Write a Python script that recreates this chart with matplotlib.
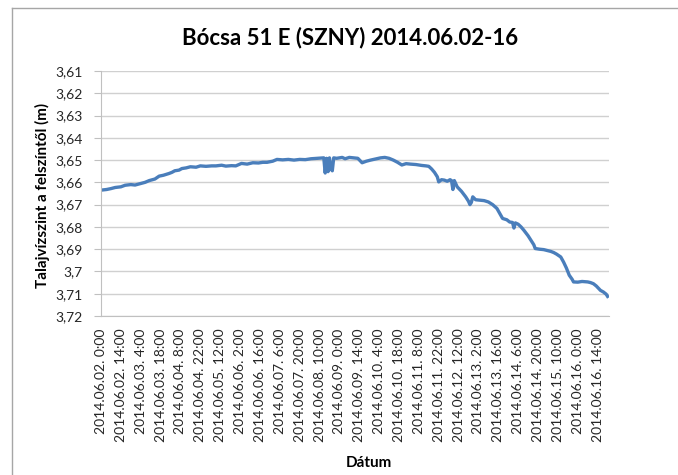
import matplotlib.pyplot as plt
from matplotlib.lines import Line2D

plt.rcParams['font.family'] = ['Lato', 'DejaVu Sans']

# hours since 2014.06.02 0:00, groundwater depth below surface (m)
hours = [0, 4, 7, 10, 14, 17, 21, 24, 28, 31, 34, 38, 41, 44, 48, 50, 52, 55, 57, 60,
         63, 67, 70, 74, 78, 81, 85, 88, 92, 95, 99, 103, 107, 111, 114, 117, 121,
         124, 128, 132, 136, 140, 144, 148, 152, 155, 157, 158, 159, 160, 161, 162,
         163, 164, 166, 170, 172, 175, 178, 181, 184, 187, 190, 194, 197, 200, 203,
         206, 209, 212, 215, 218, 222, 226, 229, 231, 233, 235, 237, 238, 240, 242,
         244, 246, 247, 248, 249, 251, 254, 257, 259, 260, 261, 262, 264, 267, 270,
         273, 276, 279, 281, 283, 286, 288, 290, 291, 292, 294, 296, 298, 301, 303,
         305, 306, 309, 312, 314, 317, 319, 321, 324, 326, 328, 330, 332, 333, 336,
         339, 341, 343, 345, 347, 349, 351, 352, 354, 356, 357]
depth = [3.6635, 3.6632, 3.6628, 3.6623, 3.6620, 3.6613, 3.6610, 3.6612, 3.6605, 3.6600,
         3.6592, 3.6585, 3.6572, 3.6568, 3.6560, 3.6555, 3.6548, 3.6545, 3.6538, 3.6535,
         3.6530, 3.6532, 3.6526, 3.6528, 3.6526, 3.6526, 3.6523, 3.6527, 3.6525, 3.6526,
         3.6515, 3.6518, 3.6512, 3.6513, 3.6510, 3.6510, 3.6505, 3.6497, 3.6499, 3.6497,
         3.6500, 3.6497, 3.6498, 3.6494, 3.6492, 3.6490, 3.6490, 3.6558, 3.6492, 3.6552,
         3.6490, 3.6540, 3.6548, 3.6490, 3.6492, 3.6488, 3.6494, 3.6488, 3.6490, 3.6492,
         3.6512, 3.6505, 3.6500, 3.6494, 3.6490, 3.6488, 3.6492, 3.6500, 3.6510, 3.6522,
         3.6516, 3.6518, 3.6520, 3.6524, 3.6526, 3.6528, 3.6540, 3.6555, 3.6575, 3.6598,
         3.6588, 3.6590, 3.6595, 3.6588, 3.6592, 3.6632, 3.6592, 3.6620, 3.6640, 3.6665,
         3.6685, 3.6700, 3.6690, 3.6665, 3.6678, 3.6680, 3.6682, 3.6688, 3.6700, 3.6717,
         3.6740, 3.6762, 3.6768, 3.6778, 3.6780, 3.6805, 3.6782, 3.6788, 3.6800, 3.6815,
         3.6840, 3.6860, 3.6880, 3.6897, 3.6900, 3.6902, 3.6905, 3.6910, 3.6915, 3.6922,
         3.6935, 3.6958, 3.6985, 3.7017, 3.7035, 3.7047, 3.7048, 3.7045, 3.7046, 3.7047,
         3.7050, 3.7055, 3.7065, 3.7078, 3.7085, 3.7092, 3.7102, 3.7112]

xtick_hours = list(range(0, 351, 14))
xtick_labels = ['2014.06.02. 0:00', '2014.06.02. 14:00', '2014.06.03. 4:00',
                '2014.06.03. 18:00', '2014.06.04. 8:00', '2014.06.04. 22:00',
                '2014.06.05. 12:00', '2014.06.06. 2:00', '2014.06.06. 16:00',
                '2014.06.07. 6:00', '2014.06.07. 20:00', '2014.06.08. 10:00',
                '2014.06.09. 0:00', '2014.06.09. 14:00', '2014.06.10. 4:00',
                '2014.06.10. 18:00', '2014.06.11. 8:00', '2014.06.11. 22:00',
                '2014.06.12. 12:00', '2014.06.13. 2:00', '2014.06.13. 16:00',
                '2014.06.14. 6:00', '2014.06.14. 20:00', '2014.06.15. 10:00',
                '2014.06.16. 0:00', '2014.06.16. 14:00']
ytick_values = [3.61, 3.62, 3.63, 3.64, 3.65, 3.66, 3.67, 3.68, 3.69, 3.70, 3.71, 3.72]
ytick_labels = ['3,61', '3,62', '3,63', '3,64', '3,65', '3,66', '3,67', '3,68', '3,69',
                '3,7', '3,71', '3,72']

fig = plt.figure(figsize=(6.78, 4.75), dpi=100)
ax = fig.add_axes([101 / 678, 1 - 316 / 475, 508 / 678, 245 / 475])

ax.plot(hours, depth, color='#4a7ebb', lw=2.4, solid_joinstyle='round')

ax.set_xlim(0, 358)
ax.set_ylim(3.72, 3.61)
ax.set_yticks(ytick_values)
ax.set_yticklabels(ytick_labels)
ax.set_xticks(xtick_hours)
ax.set_xticklabels(xtick_labels, rotation=90)
ax.grid(axis='y', color='#d0d0d0', lw=1)
ax.set_axisbelow(True)
for side in ['top', 'right']:
    ax.spines[side].set_visible(False)
for side in ['left', 'bottom']:
    ax.spines[side].set_color('#c0c0c0')
ax.tick_params(axis='y', length=5, color='#c0c0c0', pad=8, labelsize=10, labelcolor='#262626')
ax.tick_params(axis='x', length=0, pad=9, labelsize=10, labelcolor='#262626')

fig.text(350 / 678, 1 - 38 / 475, 'Bócsa 51 E (SZNY) 2014.06.02-16', ha='center',
         va='center', fontsize=16, fontweight='bold')
fig.text(42 / 678, 1 - 195 / 475, 'Talajvízszint a felszíntől (m)', ha='center',
         va='center', rotation=90, fontsize=11, fontweight='bold')
fig.text(369 / 678, 1 - 463 / 475, 'Dátum', ha='center', va='center',
         fontsize=11, fontweight='bold')

# chart border (only top and left edges visible in the original crop)
fig.add_artist(Line2D([12 / 678, 1], [1 - 8 / 475, 1 - 8 / 475], color='#a6a6a6', lw=1))
fig.add_artist(Line2D([12 / 678, 12 / 678], [0, 1 - 8 / 475], color='#a6a6a6', lw=1))

fig.savefig('out.png', dpi=100)
